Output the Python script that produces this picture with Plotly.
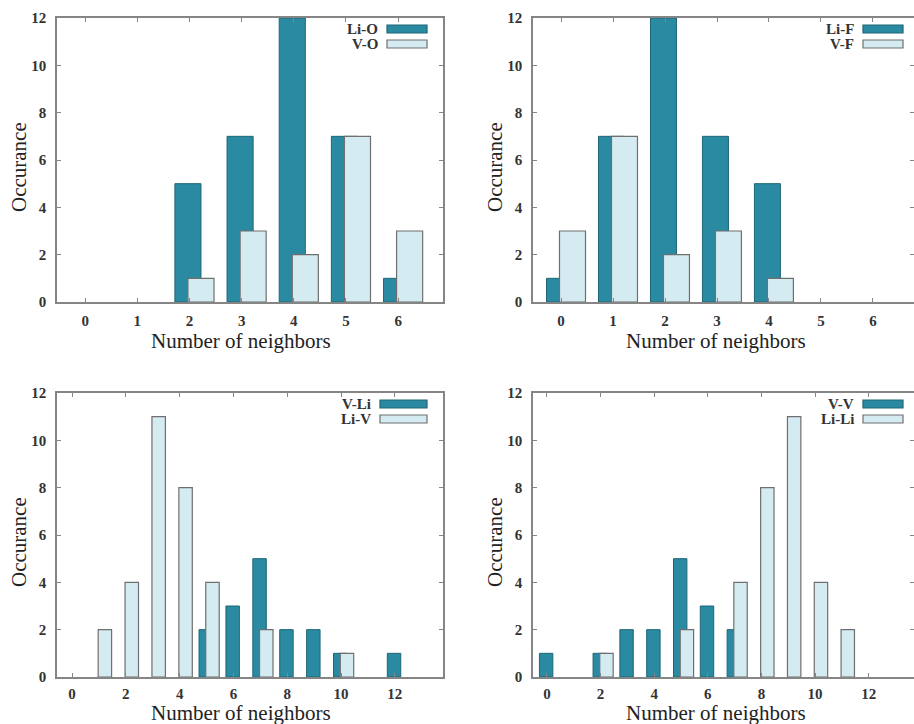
import plotly.graph_objects as go

W, H = 914, 724

# ---------------- data ----------------
top_x = [0, 1, 2, 3, 4, 5, 6]
li_o = [0, 0, 5, 7, 12, 7, 1]
v_o = [0, 0, 1, 3, 2, 7, 3]
li_f = [1, 7, 12, 7, 5, 0, 0]
v_f = [3, 7, 2, 3, 1, 0, 0]

v_li_x = [5, 6, 7, 8, 9, 10, 12]
v_li = [2, 3, 5, 2, 2, 1, 1]
li_v_x = [1, 2, 3, 4, 5, 7, 10]
li_v = [2, 4, 11, 8, 4, 2, 1]

v_v_x = [0, 2, 3, 4, 5, 6, 7]
v_v = [1, 1, 2, 2, 5, 3, 2]
li_li_x = [2, 5, 7, 8, 9, 10, 11]
li_li = [1, 2, 4, 8, 11, 4, 2]

top_ticks = [0, 1, 2, 3, 4, 5, 6]
bottom_ticks = [0, 2, 4, 6, 8, 10, 12]
y_ticks = [0, 2, 4, 6, 8, 10, 12]

DARK = "#2a8aa1"
DARK_LINE = "#1e6676"
LIGHT = "#d5ebf2"
LIGHT_LINE = "#6f6f6f"
FRAME = "#858585"
TXT = "#333333"
SERIF = "Liberation Serif"


def px(x):
    return x / W


def py(y):
    return 1 - y / H


def nz(xs, ys):
    pairs = [(a, b) for a, b in zip(xs, ys) if b != 0]
    return [p[0] for p in pairs], [p[1] for p in pairs]


fig = go.Figure()

panels = [
    dict(ax="", dark=("Li-O", top_x, li_o), light=("V-O", top_x, v_o),
         frame=(57, 443, 18, 302), xr=[-0.54, 6.86], ticks=top_ticks,
         leg_box=(387, 427), ytitle=(19, 167), xtitle=(241, 341), xstand=4),
    dict(ax="2", dark=("Li-F", top_x, li_f), light=("V-F", top_x, v_f),
         frame=(533, 918, 18, 302), xr=[-0.54, 6.79], ticks=top_ticks,
         leg_box=(863, 903), ytitle=(495, 167), xtitle=(716, 341), xstand=4),
    dict(ax="3", dark=("V-Li", v_li_x, v_li), light=("Li-V", li_v_x, li_v),
         frame=(57, 443, 393, 677), xr=[-0.56, 13.79], ticks=bottom_ticks,
         leg_box=(380, 427), ytitle=(19, 542), xtitle=(241, 713), xstand=2),
    dict(ax="4", dark=("V-V", v_v_x, v_v), light=("Li-Li", li_li_x, li_li),
         frame=(533, 918, 393, 677), xr=[-0.52, 13.69], ticks=bottom_ticks,
         leg_box=(863, 903), ytitle=(495, 542), xtitle=(716, 713), xstand=2),
]

annotations = []
shapes = []

for p in panels:
    xa = "x" + p["ax"]
    ya = "y" + p["ax"]
    dn, dx, dy = p["dark"]
    ln, lx, ly = p["light"]
    dx, dy = nz(dx, dy)
    lx, ly = nz(lx, ly)
    fig.add_trace(go.Bar(x=dx, y=dy, name=dn, xaxis=xa, yaxis=ya,
                         width=0.5, offset=-0.28,
                         marker=dict(color=DARK, line=dict(color=DARK_LINE, width=1)),
                         showlegend=False))
    fig.add_trace(go.Bar(x=lx, y=ly, name=ln, xaxis=xa, yaxis=ya,
                         width=0.5, offset=-0.03,
                         marker=dict(color=LIGHT, line=dict(color=LIGHT_LINE, width=1.2)),
                         showlegend=False))

    l, r, t, b = p["frame"]
    r_dom = min(px(r), 1.0)
    axis_common = dict(showline=True, linecolor=FRAME, linewidth=1.5, mirror="allticks",
                       ticks="inside", ticklen=4, tickcolor=FRAME, tickwidth=1,
                       showgrid=False, zeroline=False, automargin=False,
                       tickfont=dict(family=SERIF, size=15, color=TXT, weight="bold"))
    fig.layout["xaxis" + p["ax"]] = dict(axis_common, domain=[px(l), r_dom], range=p["xr"],
                                         tickvals=p["ticks"], anchor=ya,
                                         ticklabelstandoff=p["xstand"])
    fig.layout["yaxis" + p["ax"]] = dict(axis_common, domain=[py(b), py(t)], range=[0, 12],
                                         tickvals=y_ticks, anchor=xa,
                                         ticklabelstandoff=6)

    annotations.append(dict(text="Occurance", x=px(p["ytitle"][0]), y=py(p["ytitle"][1]),
                            xref="paper", yref="paper", showarrow=False, textangle=-90,
                            font=dict(family=SERIF, size=21, color="#222"),
                            xanchor="center", yanchor="middle"))
    annotations.append(dict(text="Number of neighbors", x=px(p["xtitle"][0]), y=py(p["xtitle"][1]),
                            xref="paper", yref="paper", showarrow=False,
                            font=dict(family=SERIF, size=21, color="#222"),
                            xanchor="center", yanchor="middle", borderpad=0))

    bx0, bx1 = p["leg_box"]
    for i, (name, fill, line) in enumerate([(dn, DARK, DARK_LINE), (ln, LIGHT, LIGHT_LINE)]):
        yc = t + 11 + 15 * i
        shapes.append(dict(type="rect", xref="paper", yref="paper",
                           x0=px(bx0), x1=px(bx1), y0=py(yc + 4), y1=py(yc - 4),
                           fillcolor=fill, line=dict(color=line, width=1.2)))
        annotations.append(dict(text=name, x=px(bx0 - 7), y=py(yc), xref="paper", yref="paper",
                                showarrow=False, xanchor="right", yanchor="middle",
                                font=dict(family=SERIF, size=15, color=TXT, weight="bold")))

fig.update_layout(width=W, height=H, barmode="overlay",
                  margin=dict(l=0, r=0, t=0, b=0),
                  paper_bgcolor="white", plot_bgcolor="white",
                  annotations=annotations, shapes=shapes, showlegend=False)

fig.write_html("out.html", config={"displayModeBar": False},
               post_script="document.body.style.margin='0px';document.body.style.overflow='hidden';")
